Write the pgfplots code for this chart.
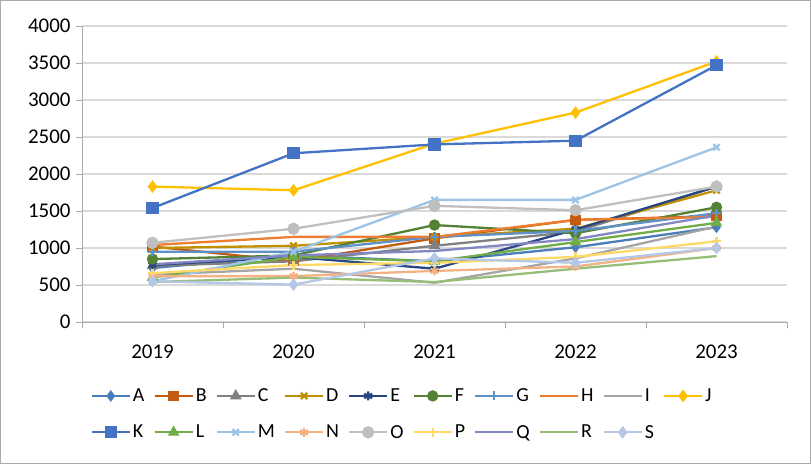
\documentclass[border=0pt]{standalone}
\usepackage{fontspec}
\setmainfont{Carlito}
\usepackage{pgfplots}
\pgfplotsset{compat=1.18}

% Excel-like series colours
\definecolor{cA}{RGB}{74,126,187}
\definecolor{cB}{RGB}{197,90,17}
\definecolor{cC}{RGB}{128,128,128}
\definecolor{cD}{RGB}{191,144,0}
\definecolor{cE}{RGB}{41,70,130}
\definecolor{cF}{RGB}{84,130,53}
\definecolor{cG}{RGB}{95,145,200}
\definecolor{cH}{RGB}{237,125,49}
\definecolor{cI}{RGB}{165,165,165}
\definecolor{cJ}{RGB}{255,192,0}
\definecolor{cK}{RGB}{68,114,196}
\definecolor{cL}{RGB}{112,173,71}
\definecolor{cM}{RGB}{157,195,230}
\definecolor{cN}{RGB}{244,177,131}
\definecolor{cO}{RGB}{191,191,191}
\definecolor{cP}{RGB}{255,217,102}
\definecolor{cQ}{RGB}{130,135,195}
\definecolor{cR}{RGB}{150,190,120}
\definecolor{cS}{RGB}{180,199,231}
\definecolor{gridc}{RGB}{217,217,217}
\definecolor{framec}{RGB}{170,170,170}

\begin{document}
\begin{tikzpicture}
\useasboundingbox (0,0) rectangle (811bp,464bp);
\draw[framec, line width=0.8bp] (0.5bp,0.5bp) rectangle (810.5bp,463.5bp);
\begin{axis}[
  at={(82bp,142bp)}, anchor=origin,
  scale only axis,
  width=705bp, height=296bp,
  xmin=0.5, xmax=5.5,
  ymin=0, ymax=4000,
  xtick={1,2,3,4,5},
  xticklabels={2019,2020,2021,2022,2023},
  minor xtick={0.5,1.5,2.5,3.5,4.5,5.5},
  ytick={0,500,...,4000},
  major x tick style={draw=none},
  minor tick length=6bp,
  major tick length=6bp,
  tick align=outside,
  tick style={framec, line width=0.8bp},
  ymajorgrids=true,
  grid style={gridc, line width=1.2bp},
  axis x line*=bottom,
  axis y line*=left,
  axis line style={framec, line width=0.8bp, -},
  every tick label/.append style={font=\fontsize{21}{23}\selectfont},
  /pgf/number format/assume math mode=true,
  yticklabel style={/pgf/number format/1000 sep={}, xshift=-2bp},
  xticklabel style={yshift=-13bp},
  clip=false,
  every axis plot/.append style={line width=2.3bp, mark options={solid}},
  legend columns=10,
  legend style={
    draw=none, fill=none, inner sep=0pt,
    at={(0.012,-0.218)}, anchor=north west,
    font=\fontsize{20}{22}\selectfont,
    /tikz/every even column/.append style={column sep=7bp},
    row sep=18bp,
  },
  legend cell align=left,
  legend image code/.code={
    \draw[mark repeat=2,mark phase=2] plot coordinates {(0bp,0bp) (19bp,0bp) (38bp,0bp)};
  },
]
\addplot[cA, mark=diamond*, mark size=4bp] coordinates {(1,730) (2,900) (3,820) (4,1010) (5,1280)};
\addplot[cB, mark=square*, mark size=4bp] coordinates {(1,1020) (2,820) (3,1130) (4,1380) (5,1430)};
\addplot[cC, mark=triangle*, mark size=4.5bp] coordinates {(1,760) (2,820) (3,1030) (4,1220) (5,1830)};
\addplot[cD, mark=x, mark size=4.5bp] coordinates {(1,1000) (2,1030) (3,1150) (4,1260) (5,1780)};
\addplot[cE, mark=asterisk, mark size=4.5bp] coordinates {(1,770) (2,880) (3,720) (4,1250) (5,1830)};
\addplot[cF, mark=*, mark size=4.5bp] coordinates {(1,850) (2,900) (3,1310) (4,1200) (5,1550)};
\addplot[cG, mark=+, mark size=4.5bp] coordinates {(1,950) (2,950) (3,1150) (4,1230) (5,1470)};
\addplot[cH] coordinates {(1,1040) (2,1150) (3,1150) (4,1380) (5,1420)};
\addplot[cI] coordinates {(1,640) (2,720) (3,530) (4,860) (5,1290)};
\addplot[cJ, mark=diamond*, mark size=4.5bp] coordinates {(1,1830) (2,1780) (3,2410) (4,2830) (5,3520)};
\addplot[cK, mark=square*, mark size=5bp] coordinates {(1,1540) (2,2280) (3,2400) (4,2450) (5,3470)};
\addplot[cL, mark=triangle*, mark size=4.5bp] coordinates {(1,600) (2,880) (3,820) (4,1080) (5,1340)};
\addplot[cM, mark=x, mark size=4.5bp] coordinates {(1,550) (2,950) (3,1650) (4,1650) (5,2360)};
\addplot[cN, mark=asterisk, mark size=4.5bp] coordinates {(1,620) (2,620) (3,690) (4,750) (5,1000)};
\addplot[cO, mark=*, mark size=5bp] coordinates {(1,1070) (2,1260) (3,1570) (4,1510) (5,1830)};
\addplot[cP, mark=+, mark size=4.5bp] coordinates {(1,660) (2,770) (3,800) (4,880) (5,1090)};
\addplot[cQ] coordinates {(1,780) (2,900) (3,960) (4,1120) (5,1440)};
\addplot[cR] coordinates {(1,540) (2,600) (3,540) (4,720) (5,890)};
\addplot[cS, mark=diamond*, mark size=4.5bp] coordinates {(1,550) (2,505) (3,860) (4,800) (5,1000)};
\legend{A,B,C,D,E,F,G,H,I,J,K,L,M,N,O,P,Q,R,S}
\end{axis}
\end{tikzpicture}
\end{document}
